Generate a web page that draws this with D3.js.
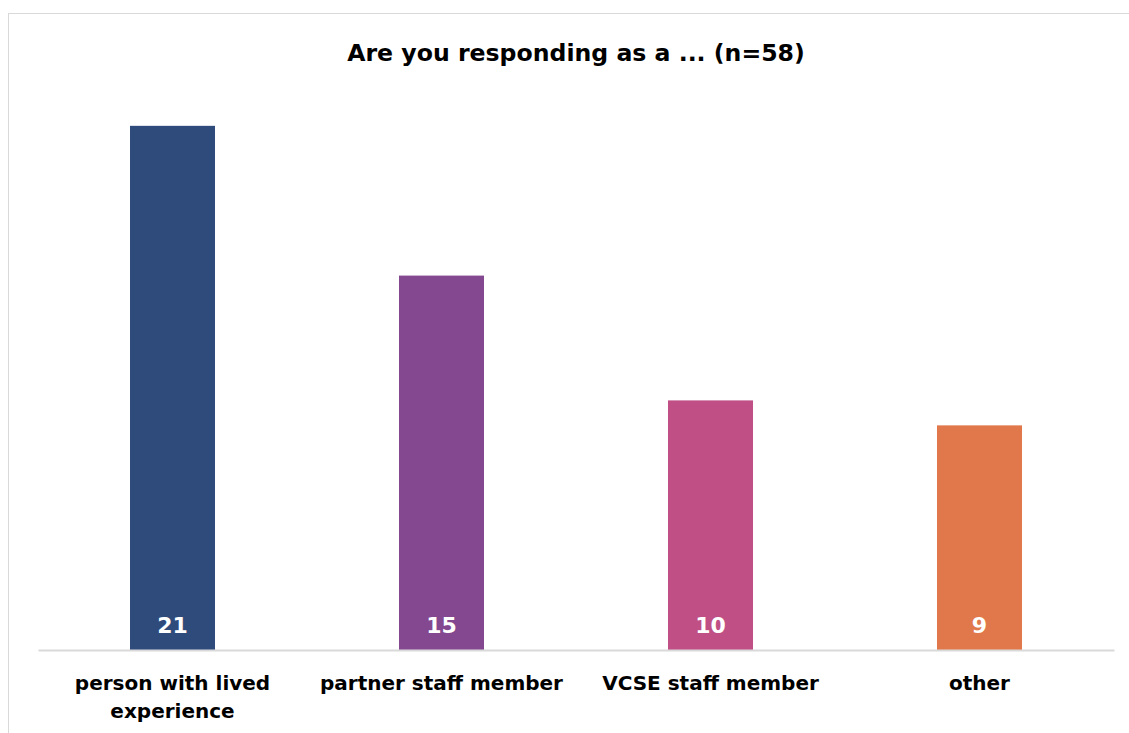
<!DOCTYPE html>
<html>
<head>
<meta charset="utf-8">
<script src="https://cdn.jsdelivr.net/npm/d3@7"></script>
<style>
  html, body { margin: 0; padding: 0; background: #ffffff; }
  svg { display: block; }
  text { font-family: "DejaVu Sans", sans-serif; font-weight: bold; }
</style>
</head>
<body>
<svg id="chart" width="1129" height="733"></svg>
<script>
// Survey responses by respondent type
const title = "Are you responding as a ... (n=58)";
const categories = ["person with lived experience", "partner staff member", "VCSE staff member", "other"];
const labelLines = [["person with lived", "experience"], ["partner staff member"], ["VCSE staff member"], ["other"]];
const counts = [21, 15, 10, 9];
const colors = ["#2f4b7c", "#83488f", "#bf4f85", "#e0784b"];

const svg = d3.select("#chart");
const W = 1129, H = 733;

// Chart frame
svg.append("rect")
  .attr("x", 8.5).attr("y", 13.5)
  .attr("width", W + 10).attr("height", H + 10)
  .attr("fill", "#ffffff")
  .attr("stroke", "#d9d9d9")
  .attr("stroke-width", 1);

const plot = { left: 38, right: 1114, top: 26, bottom: 650 };

const x = d3.scaleBand()
  .domain(categories)
  .range([plot.left, plot.right])
  .paddingInner(0.684)
  .paddingOuter(0.342);

const y = d3.scaleLinear()
  .domain([0, 25])
  .range([plot.bottom, plot.top]);

// Title
svg.append("text")
  .attr("x", 576).attr("y", 61)
  .attr("text-anchor", "middle")
  .attr("font-size", 23.6)
  .attr("fill", "#000000")
  .text(title);

// Bars
svg.append("g").selectAll("rect")
  .data(categories)
  .join("rect")
  .attr("x", d => x(d))
  .attr("y", (d, i) => y(counts[i]))
  .attr("width", x.bandwidth())
  .attr("height", (d, i) => y(0) - y(counts[i]))
  .attr("fill", (d, i) => colors[i]);

// Value labels inside bar bases
svg.append("g").selectAll("text")
  .data(categories)
  .join("text")
  .attr("x", d => x(d) + x.bandwidth() / 2)
  .attr("y", y(0) - 17)
  .attr("text-anchor", "middle")
  .attr("font-size", 22)
  .attr("fill", "#ffffff")
  .text((d, i) => counts[i]);

// Category axis
const axis = svg.append("g")
  .attr("transform", `translate(0,${plot.bottom})`)
  .call(d3.axisBottom(x).tickSize(0).tickFormat(""));
axis.select(".domain")
  .attr("stroke", "#d9d9d9")
  .attr("stroke-width", 2);

// Category labels (wrapped)
const lab = svg.append("g").selectAll("text")
  .data(categories)
  .join("text")
  .attr("text-anchor", "middle")
  .attr("font-size", 20)
  .attr("fill", "#000000");
lab.each(function(d, i) {
  const t = d3.select(this);
  labelLines[i].forEach((line, j) => {
    t.append("tspan")
      .attr("x", x(d) + x.bandwidth() / 2)
      .attr("y", 690 + j * 28)
      .text(line);
  });
});
</script>
</body>
</html>
